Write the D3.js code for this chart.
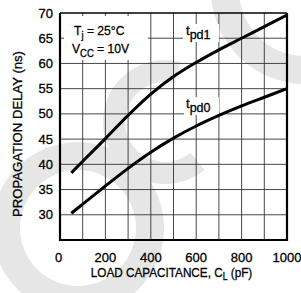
<!DOCTYPE html>
<html>
<head>
<meta charset="utf-8">
<script src="https://cdn.jsdelivr.net/npm/d3@7"></script>
<style>
  html, body { margin: 0; padding: 0; background: #fff; }
  svg { display: block; }
  text { font-family: "Liberation Sans", Arial, sans-serif; fill: #000; stroke: #000; stroke-width: 0.3px; }
</style>
</head>
<body>
<svg id="chart" width="301" height="293"></svg>
<script>
// load capacitance (pF) and delays (ns)
const loadPf = [50, 100, 200, 300, 400, 500, 600, 700, 800, 900, 1000];
const tpd1 = [38.3, 40.6, 45.1, 49.7, 53.9, 57.4, 60.2, 62.7, 65.0, 67.3, 69.6];
const tpd0 = [30.3, 32.1, 35.7, 39.2, 42.4, 45.2, 47.6, 49.7, 51.6, 53.3, 55.0];
const xTickLabels = [0, 200, 400, 600, 800, 1000];
const yTickLabels = [30, 35, 40, 45, 50, 55, 60, 65, 70];

const plotL = 60, plotR = 287, plotT = 13, plotB = 240;

const svg = d3.select('#chart');

// faint watermark behind the plot
const wm = svg.append('g').attr('fill', '#e6e6e6');
wm.append('path')
  .attr('transform', 'translate(305,-10)')
  .attr('d', d3.arc()({innerRadius: 66, outerRadius: 94, startAngle: 0, endAngle: 2 * Math.PI}));
wm.append('path')
  .attr('transform', 'translate(78,228)')
  .attr('d', d3.arc()({innerRadius: 58, outerRadius: 86, startAngle: 0, endAngle: 2 * Math.PI}));
wm.append('path')
  .attr('transform', 'translate(165,122)')
  .attr('d', d3.arc()({innerRadius: 40, outerRadius: 62, startAngle: Math.PI * 0.78, endAngle: Math.PI * 2.08}));

const x = d3.scaleLinear().domain([0, 1000]).range([plotL, plotR]);
const y = d3.scaleLinear().domain([25, 70]).range([plotB, plotT]);

// grid
const grid = svg.append('g').attr('stroke', '#333').attr('stroke-width', 0.9);
grid.selectAll('.vg')
  .data(d3.range(100, 1000, 100))
  .enter()
  .append('line')
  .attr('x1', (d) => x(d)).attr('x2', (d) => x(d))
  .attr('y1', plotT).attr('y2', plotB);
grid.selectAll('.hg')
  .data(d3.range(30, 70, 5))
  .enter()
  .append('line')
  .attr('x1', plotL).attr('x2', plotR)
  .attr('y1', (d) => y(d)).attr('y2', (d) => y(d));

// frame
svg.append('line').attr('x1', plotL).attr('x2', plotR).attr('y1', plotT).attr('y2', plotT)
  .attr('stroke', '#000').attr('stroke-width', 1.3);
svg.append('path')
  .attr('d', `M${plotL},${plotT}V${plotB}H${plotR}V${plotT}`)
  .attr('fill', 'none').attr('stroke', '#000').attr('stroke-width', 2.2);

// white boxes behind the annotations
svg.append('rect').attr('x', 64).attr('y', 16).attr('width', 84).attr('height', 44).attr('fill', '#fff');
svg.append('rect').attr('x', 183).attr('y', 24).attr('width', 36).attr('height', 18).attr('fill', '#fff');
svg.append('rect').attr('x', 184).attr('y', 97).attr('width', 35).attr('height', 18).attr('fill', '#fff');

// curves
const line = d3.line()
  .x((d) => x(d[0]))
  .y((d) => y(d[1]))
  .curve(d3.curveCatmullRom);

[tpd1, tpd0].forEach((series) => {
  svg.append('path')
    .datum(loadPf.map((c, i) => [c, series[i]]))
    .attr('d', line)
    .attr('fill', 'none')
    .attr('stroke', '#000')
    .attr('stroke-width', 3);
});

// tick labels
svg.selectAll('.ylab')
  .data(yTickLabels)
  .enter()
  .append('text')
  .attr('x', 53)
  .attr('y', (d) => y(d) + 4.6)
  .attr('text-anchor', 'end')
  .attr('font-size', 13)
  .text((d) => d);

svg.selectAll('.xlab')
  .data(xTickLabels)
  .enter()
  .append('text')
  .attr('x', (d) => x(d) - (d === 0 ? 1.5 : 0))
  .attr('y', 262)
  .attr('text-anchor', 'middle')
  .attr('font-size', 13)
  .text((d) => d);

// axis titles
const xt = svg.append('text')
  .attr('transform', 'translate(171.5,277) scale(0.87,1)')
  .attr('text-anchor', 'middle')
  .attr('font-size', 13.5);
xt.append('tspan').text('LOAD CAPACITANCE, C');
xt.append('tspan').attr('font-size', 10).attr('dy', 3).text('L');
xt.append('tspan').attr('dy', -3).text(' (pF)');

svg.append('text')
  .attr('transform', 'translate(21.5,134) rotate(-90)')
  .attr('text-anchor', 'middle')
  .attr('font-size', 13.5)
  .attr('textLength', 166)
  .attr('lengthAdjust', 'spacingAndGlyphs')
  .text('PROPAGATION DELAY (ns)');

// conditions
const c1 = svg.append('text').attr('transform', 'translate(74,35) scale(0.9,1)').attr('font-size', 13.5);
c1.append('tspan').text('T');
c1.append('tspan').attr('font-size', 10.5).attr('dy', 4).text('j');
c1.append('tspan').attr('dy', -4).text(' = 25\u00B0C');

const c2 = svg.append('text').attr('transform', 'translate(72,53) scale(0.9,1)').attr('font-size', 13.5);
c2.append('tspan').text('V');
c2.append('tspan').attr('font-size', 10.5).attr('dy', 4).text('CC');
c2.append('tspan').attr('dy', -4).text(' = 10V');

// curve labels
const l1 = svg.append('text').attr('x', 186).attr('y', 35).attr('font-size', 13);
l1.append('tspan').text('t');
l1.append('tspan').attr('font-size', 12.5).attr('dy', 3.5).text('pd1');

const l0 = svg.append('text').attr('x', 186).attr('y', 108).attr('font-size', 13);
l0.append('tspan').text('t');
l0.append('tspan').attr('font-size', 12.5).attr('dy', 3.5).text('pd0');
</script>
</body>
</html>
